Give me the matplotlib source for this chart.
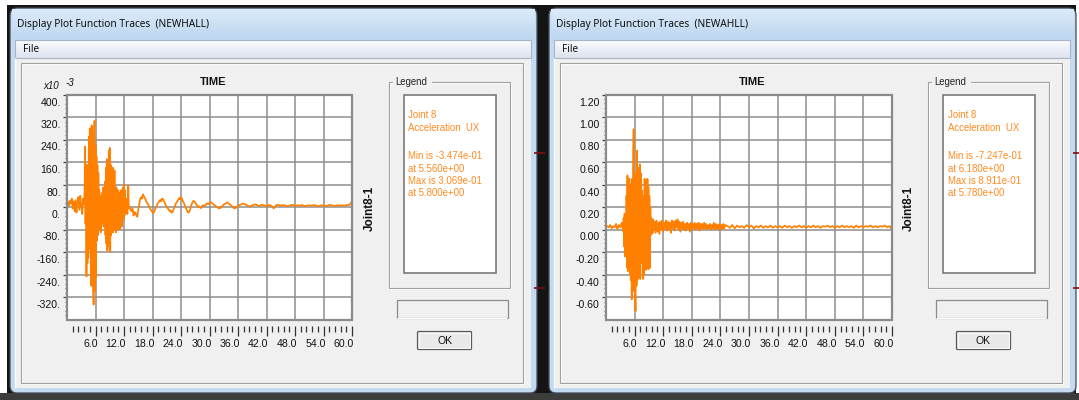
import numpy as np
import matplotlib
matplotlib.use("Agg")
import matplotlib.pyplot as plt
from matplotlib.patches import Rectangle, FancyBboxPatch
from matplotlib.transforms import ScaledTranslation
from matplotlib.colors import to_rgb

# ---------------- data ----------------
time_major = [6.0, 12.0, 18.0, 24.0, 30.0, 36.0, 42.0, 48.0, 54.0, 60.0]
time_labels = ["6.0", "12.0", "18.0", "24.0", "30.0", "36.0", "42.0", "48.0", "54.0", "60.0"]

left_yticks = [400, 320, 240, 160, 80, 0, -80, -160, -240, -320]
left_ylabels = ["400.", "320.", "240.", "160.", "80.", "0.", "-80.", "-160.", "-240.", "-320."]
right_yticks = [1.20, 1.00, 0.80, 0.60, 0.40, 0.20, 0.00, -0.20, -0.40, -0.60]
right_ylabels = ["1.20", "1.00", "0.80", "0.60", "0.40", "0.20", "0.00", "-0.20", "-0.40", "-0.60"]

# Left trace (x10^-3), segments: (t_start, t_end) with values
left_seg_a = (0.0, 3.6)
left_v_a = [10, 18, 5, 22, 12, 30, -5, 20, -15, 25, -20, 15, 35, -10, 40, 5, -25, 30, 10]
left_seg_b = (3.7, 13.0)
left_v_b = [60, 215, -60, 120, -247, 150, -200, 100, -180, 250,
            -120, 280, -150, 200, -280, 290, -200, 260, -260, -347,
            250, 307, -300, 220, -250, 180, -120, 150, -100, 120,
            -60, 60, -80, 40, -90, 30, -60, 50, -40, 70,
            -70, 40, -50, 90, -100, 140, -130, 170, -155, 130,
            -140, 200, -120, 210, -160, 150, -100, 120, -80, 140,
            -90, 90, -80, 130, -70, 60, -90, 70, -60, 50,
            -80, 60, -50, 50, -80, 40, -40, 60, -70, 50,
            -50, 70, -40, 80, -30, 60, -20, 30, -10, 20,
            -25, 10, 75, -5]
left_seg_c = (13.2, 36.0)
left_v_c = [0, -12, -15, -5, -30, -18, -20, -30, -35, -10,
            10, 28, 35, 30, 45, 38, 30, 25, 15, 12,
            5, -2, -10, -12, -20, -22, -15, -5, 0, 10,
            15, 20, 25, 20, 30, 28, 20, 14, 5, 2,
            -5, -8, -15, -12, -20, -18, -10, -2, 5, 15,
            20, 25, 32, 28, 35, 30, 20, 15, 5, -2,
            -10, -18, -20, -15, -5, 8, 15, 22, 20, 16,
            10, 6, 0, 3, -2, -4, 2, 6, 5, 4,
            8, 12, 12, 10, 15, 18, 15, 13, 10, 7,
            5, 2, 0, -3, -5, -1, -3, 2, 5, 9,
            10, 12, 15, 16, 14, 10, 8, 4, 2, -2,
            -5, -1, -3, 1, 5]
left_seg_d = (36.5, 60.0)
left_v_d = [8, 12, 10, 5, 2, 6, 9, 7, 4, 8, 6, 3, 7, 5, -5, 6, 8, 4, 7, 5,
            3, 6, 8, 4, 6, 5, 7, 3, 5, 6, 4, 7, 5, 3, 6, 5, 4, 6, 7, 5,
            4, 6, 5, 6, 5, 7, 8, 20]

# Right trace
right_seg_a = (0.0, 3.6)
right_v_a = [0.02, 0.03, 0.02, 0.04, 0.01, 0.03, 0.02, 0.05, 0.0, 0.04, 0.02, 0.06, -0.02]
right_seg_b = (3.7, 10.0)
right_v_b = [0.10, -0.15, 0.14, -0.24, 0.12, -0.20, 0.30, -0.34, 0.48, -0.37,
             0.40, -0.30, 0.45, -0.40, 0.40, -0.45, 0.38, -0.62, 0.45, -0.55,
             0.60, 0.891, -0.40, 0.50, -0.55, -0.725, 0.40, -0.50, 0.70, -0.45,
             0.55, -0.42, 0.45, -0.40, 0.58, -0.44, 0.50, -0.30, 0.35, -0.25,
             0.30, -0.44, 0.25, -0.40, 0.45, -0.30, 0.40, -0.36, 0.44, -0.33,
             0.45, -0.35, 0.38, -0.35, 0.30, -0.34, 0.20, -0.05, 0.10, -0.04,
             0.08, -0.03, 0.09, 0.0]
right_seg_c = (10.2, 25.0)
right_v_c = [0.07, -0.03, 0.08, -0.02, 0.06, -0.04, 0.07, 0.0, 0.08, -0.02,
             0.06, 0.01, 0.08, -0.01, 0.07, 0.0, 0.06, -0.03, 0.08, 0.01,
             0.07, -0.01, 0.08, 0.02, 0.09, 0.0, 0.07, -0.02, 0.06, 0.01,
             0.07, 0.0, 0.05, -0.01, 0.06, 0.01, 0.05, -0.02, 0.06, 0.0,
             0.05, 0.01, 0.06, 0.0, 0.05, 0.01, 0.06, -0.01, 0.05, 0.01,
             0.05, 0.0, 0.06, 0.01, 0.05, 0.0, 0.04, 0.01, 0.05, 0.0,
             0.04, 0.01, 0.06, 0.0, 0.05, 0.01, 0.04, 0.0, 0.05, 0.01,
             0.04, 0.0, 0.05, 0.01, 0.04]
right_seg_d = (25.5, 60.0)
right_v_d = [0.03, 0.015, 0.04, 0.01, 0.035, 0.02, 0.03, 0.015, 0.04, 0.02,
             0.035, 0.01, 0.03, 0.02, 0.035, 0.015, 0.03, 0.02, 0.035, 0.015,
             0.03, 0.02, 0.03, 0.015, 0.035, 0.02, 0.03, 0.015, 0.03, 0.02,
             0.035, 0.02, 0.03, 0.015, 0.03, 0.02, 0.035, 0.02, 0.03, 0.015,
             0.03, 0.025, 0.035, 0.02, 0.03, 0.015, 0.03, 0.02, 0.035, 0.02,
             0.03, 0.02, 0.03, 0.015, 0.035, 0.02, 0.03, 0.02, 0.03, 0.025,
             0.035, 0.02, 0.03, 0.02, 0.03, 0.025, 0.035, 0.02, 0.03, 0.0]

left_legend = ["Joint 8", "Acceleration  UX", "", "Min is -3.474e-01", "at 5.560e+00",
               "Max is 3.069e-01", "at 5.800e+00"]
right_legend = ["Joint 8", "Acceleration  UX", "", "Min is -7.247e-01", "at 6.180e+00",
                "Max is 8.911e-01", "at 5.780e+00"]


def build(segs):
    ts, vs = [], []
    for (t0, t1), v in segs:
        ts.append(np.linspace(t0, t1, len(v)))
        vs.append(np.asarray(v, dtype=float))
    return np.concatenate(ts), np.concatenate(vs)


left_t, left_v = build([(left_seg_a, left_v_a), (left_seg_b, left_v_b),
                        (left_seg_c, left_v_c), (left_seg_d, left_v_d)])
right_t, right_v = build([(right_seg_a, right_v_a), (right_seg_b, right_v_b),
                          (right_seg_c, right_v_c), (right_seg_d, right_v_d)])

# ---------------- fonts ----------------
UI = "Liberation Sans"
TITLEF = "Noto Sans"

# ---------------- figure ----------------
W, H = 1079, 400
fig = plt.figure(figsize=(W / 100, H / 100), dpi=100)
bg = fig.add_axes([0, 0, 1, 1])
bg.axis("off")


def rect(x0, y0, x1, y1, fc="none", ec="none", lw=0.72, z=1):
    bg.add_patch(Rectangle((x0, y0), x1 - x0, y1 - y0, facecolor=fc, edgecolor=ec,
                           linewidth=lw, zorder=z))


def line(xs, ys, c, lw=0.72, z=3):
    bg.plot(xs, ys, color=c, lw=lw, zorder=z, solid_capstyle="butt")


def grad(x0, y0, x1, y1, c0, c1, z=1):
    a, b = np.array(to_rgb(c0)), np.array(to_rgb(c1))
    f = np.linspace(0, 1, 64)
    img = (a[None, :] * (1 - f[:, None]) + b[None, :] * f[:, None])[:, None, :]
    bg.imshow(img, extent=(x0, x1, y1, y0), origin="upper", aspect="auto",
              interpolation="bilinear", zorder=z)


def txt(x, y, s, **kw):
    kw.setdefault("fontfamily", UI)
    kw.setdefault("zorder", 6)
    bg.text(x, y, s, **kw)


# screen background
rect(0, 0, W, H, fc="white", z=0)
rect(7, 5, 1076, 400, fc="#141414", z=0.5)
rect(0, 393, W, 400, fc="#3c3c3c", z=0.6)


def draw_window(x0, title, legend_lines):
    x1 = x0 + 527
    bg.add_patch(FancyBboxPatch((x0, 8), 527, 385,
                                boxstyle="round,pad=0,rounding_size=7",
                                fc="#C3DAF1", ec="#3f4a56", lw=0.9, zorder=1))
    grad(x0 + 2, 9.5, x1 - 2, 39, "#DCEBF9", "#BDD6EF", z=1.2)
    txt(x0 + 7, 25, title, fontsize=7.3, fontfamily=TITLEF, va="center", ha="left",
        color="#101010")
    # menu bar
    grad(x0 + 5, 40, x1 - 6, 58, "#FBFCFE", "#DCE3EF", z=1.3)
    rect(x0 + 5, 40, x1 - 6, 58, ec="#A9B4C6", lw=0.8, z=1.4)
    txt(x0 + 13, 49.5, "File", fontsize=7.3, fontfamily=TITLEF, va="center", ha="left",
        color="#101010")
    # client
    rect(x0 + 5, 58, x1 - 6, 388, fc="#F0F0F0", z=1.3)
    line([x0 + 5, x0 + 5], [58, 388], "#FFFFFF", 0.9, z=1.4)
    # etched panel
    rect(x0 + 10.5, 62.5, x0 + 512.5, 382.5, ec="#A0A0A0", lw=0.8, z=1.5)
    rect(x0 + 11.5, 63.5, x0 + 513.5, 383.5, ec="#FFFFFF", lw=0.8, z=1.45)

    # legend group box
    gx0, gx1, gy0, gy1 = x0 + 378.5, x0 + 499.5, 81.5, 287.5
    rect(gx0 + 1, gy0 + 1, gx1 + 1, gy1 + 1, ec="#FFFFFF", lw=0.8, z=1.6)
    rect(gx0, gy0, gx1, gy1, ec="#A0A0A0", lw=0.8, z=1.7)
    rect(gx0 + 4, gy0 - 6, gx0 + 43, gy0 + 4, fc="#F0F0F0", z=1.8)
    txt(gx0 + 7, gy0 + 0.5, "Legend", fontsize=6.9, va="center", ha="left", color="#222222")
    # inner white box
    ix0, ix1, iy0, iy1 = x0 + 393.5, x0 + 485.5, 94.5, 272.5
    rect(ix0, iy0, ix1, iy1, fc="white", ec="#7a7a7a", lw=1.2, z=1.7)
    ys = [115, 128, 142, 156, 168.5, 181, 193.5]
    for s, yy in zip(legend_lines, ys):
        if s:
            txt(ix0 + 5, yy, s, fontsize=6.9, va="center", ha="left", color="#FF8A1F")
    # empty status box
    rect(x0 + 386.5, 299.5, x0 + 497.5, 317.5, fc="#F0F0F0", ec="#8a8a8a", lw=0.9, z=1.7)
    line([x0 + 387, x0 + 497], [317.5, 317.5], "#FFFFFF", 0.8, z=1.8)
    # OK button
    bg.add_patch(FancyBboxPatch((x0 + 407.5, 331.5), 54, 18,
                                boxstyle="round,pad=0,rounding_size=1",
                                fc="#E9E9E9", ec="#5a5a5a", lw=0.9, zorder=1.7))
    rect(x0 + 409, 333, x0 + 460, 348, ec="#FFFFFF", lw=0.6, z=1.75)
    txt(x0 + 434.5, 340.5, "OK", fontsize=7.5, va="center", ha="center", color="#111111")
    # stray marks from window behind
    line([x1 - 3, x1 + 8], [153, 153], "#7a1010", 1.2, z=1.1)
    line([x1 - 3, x1 + 8], [288, 288], "#7a1010", 1.2, z=1.1)


draw_window(10, "Display Plot Function Traces  (NEWHALL)", left_legend)
draw_window(549, "Display Plot Function Traces  (NEWAHLL)", right_legend)

# ---------------- plot axes ----------------
minor_x = [1.2 * k for k in range(1, 51) if k % 5 != 0]


def make_plot(x0, y0, x1, y1, t, v, ylim, yt, yl, yminor):
    ax = fig.add_axes([x0 / W, 1 - y1 / H, (x1 - x0) / W, (y1 - y0) / H])
    ax.set_facecolor("white")
    ax.set_xlim(0, 60)
    ax.set_ylim(*ylim)
    ax.set_xticks(time_major)
    ax.set_xticklabels(time_labels)
    ax.set_xticks(minor_x, minor=True)
    ax.set_yticks(yt)
    ax.set_yticklabels(yl)
    ax.set_yticks(yminor, minor=True)
    for tv in time_major[:-1]:
        ax.axvline(tv, color="#8e8e8e", lw=1.1, zorder=1)
    for yv in yt[1:]:
        ax.axhline(yv, color="#8e8e8e", lw=1.1, zorder=1)
    ax.plot(t, v, color="#FF8000", lw=1.25, zorder=3)
    for sp in ax.spines.values():
        sp.set_visible(False)
    ax.spines["bottom"].set_position(("outward", 5))
    ax.add_patch(Rectangle((0, 0), 1, 1, transform=ax.transAxes, fill=False,
                           ec="#8a8a8a", lw=1.6, zorder=4, clip_on=False))
    ax.tick_params(axis="x", which="major", direction="out", length=7, width=0.9,
                   color="#333333", pad=2, labelsize=7.6, labelcolor="#111111")
    ax.tick_params(axis="x", which="minor", direction="out", length=4, width=0.9,
                   color="#333333")
    ax.tick_params(axis="y", which="major", direction="out", length=3, width=0.9,
                   color="#444444", pad=1.5, labelsize=7.6, labelcolor="#111111")
    ax.tick_params(axis="y", which="minor", direction="out", length=1.5, width=0.8,
                   color="#666666")
    for lab in ax.get_xticklabels():
        lab.set_fontfamily(UI)
        lab.set_horizontalalignment("right")
        lab.set_transform(lab.get_transform() + ScaledTranslation(2 / 100, 0, fig.dpi_scale_trans))
    for lab in ax.get_yticklabels():
        lab.set_fontfamily(UI)
        lab.set_transform(lab.get_transform() + ScaledTranslation(0, -7 / 100, fig.dpi_scale_trans))
    return ax


left_minor = [v for v in np.arange(-400, 401, 16) if v % 80 != 0]
right_minor = [round(v, 2) for v in np.arange(-0.80, 1.201, 0.04) if abs(round(v / 0.2) * 0.2 - v) > 1e-6]

make_plot(67, 94.5, 352, 319.5, left_t, left_v, (-400, 400), left_yticks, left_ylabels, left_minor)
make_plot(606, 94.5, 892, 319.5, right_t, right_v, (-0.8, 1.2), right_yticks, right_ylabels, right_minor)

# titles, scale factor and side labels
for cx in (213, 752):
    txt(cx, 82, "TIME", fontsize=8, fontweight="bold", ha="center", va="center", color="#111111")
for cx in (370, 909):
    txt(cx, 208, "Joint8-1", fontsize=8.5, fontweight="bold", ha="center", va="center",
        rotation=90, color="#111111")
txt(43, 86, "x10", fontsize=7, fontstyle="italic", ha="left", va="center", color="#111111")
txt(65, 82.5, "-3", fontsize=7, fontstyle="italic", ha="left", va="center", color="#111111")

bg.set_xlim(0, W)
bg.set_ylim(H, 0)
fig.savefig("out.png", dpi=100)
